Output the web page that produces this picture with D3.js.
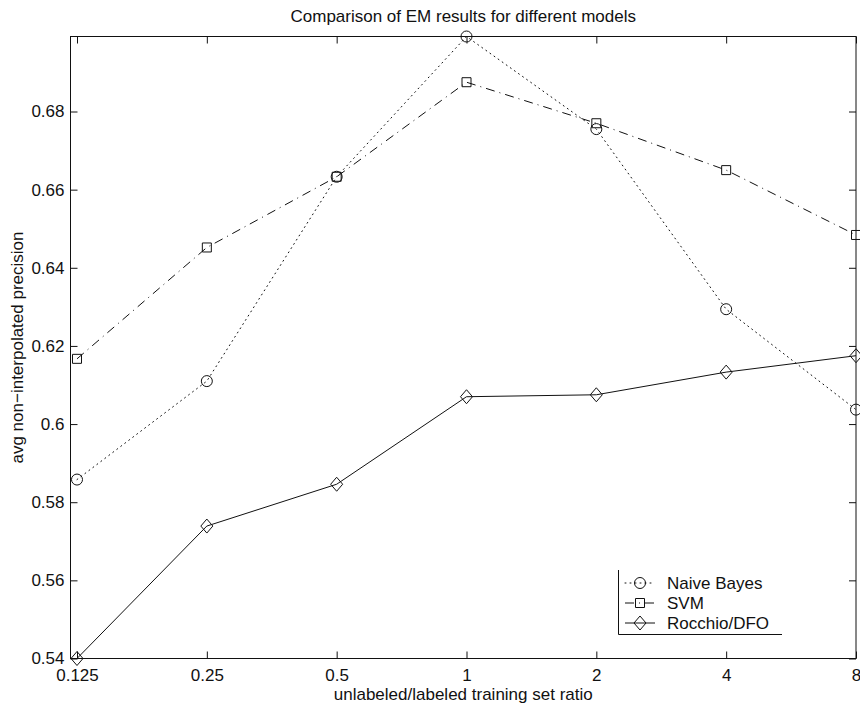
<!DOCTYPE html>
<html>
<head>
<meta charset="utf-8">
<script src="https://cdn.jsdelivr.net/npm/d3@7"></script>
<style>
  html, body { margin: 0; padding: 0; background: #fff; }
  svg { display: block; font-family: "Liberation Sans", Arial, Helvetica, sans-serif; }
</style>
</head>
<body>
<svg id="chart" width="860" height="703"></svg>
<script>
// unlabeled/labeled ratios on the x axis
const ratios = [0.125, 0.25, 0.5, 1, 2, 4, 8];
const ratioLabels = ["0.125", "0.25", "0.5", "1", "2", "4", "8"];

// avg non-interpolated precision per model
const naiveBayes = [0.5858, 0.6110, 0.6633, 0.6992, 0.6755, 0.6294, 0.6037];
const svm        = [0.6167, 0.6452, 0.6633, 0.6875, 0.6770, 0.6650, 0.6484];
const rocchio    = [0.5400, 0.5739, 0.5846, 0.6070, 0.6075, 0.6133, 0.6175];

const yTicks = [0.54, 0.56, 0.58, 0.60, 0.62, 0.64, 0.66, 0.68];
const yTickLabels = ["0.54", "0.56", "0.58", "0.6", "0.62", "0.64", "0.66", "0.68"];

const seriesNames = ["Naive Bayes", "SVM", "Rocchio/DFO"];

const svg = d3.select("#chart");
const fontSize = "17px";

// axes box
const box = { left: 70.5, right: 856, top: 36.5, bottom: 658.5 };

const x = d3.scaleLog().base(2).domain([0.125, 8]).range([77, 856]);
const y = d3.scaleLinear().domain([0.54, 0.6992]).range([658.5, 36.5]);

const ink = "#111";

// frame
svg.append("rect")
  .attr("x", box.left).attr("y", box.top)
  .attr("width", box.right - box.left).attr("height", box.bottom - box.top)
  .attr("fill", "none").attr("stroke", ink).attr("stroke-width", 1);

const tickLen = 7;

// bottom axis (ticks pointing inward)
const xBottom = svg.append("g")
  .attr("transform", `translate(0,${box.bottom})`)
  .call(d3.axisBottom(x).tickValues(ratios)
    .tickFormat((d, i) => ratioLabels[i])
    .tickSizeInner(-tickLen).tickSizeOuter(0).tickPadding(10));
xBottom.select(".domain").remove();

// top axis ticks only
const xTop = svg.append("g")
  .attr("transform", `translate(0,${box.top})`)
  .call(d3.axisTop(x).tickValues(ratios).tickFormat("")
    .tickSizeInner(-tickLen).tickSizeOuter(0));
xTop.select(".domain").remove();

// left axis
const yLeft = svg.append("g")
  .attr("transform", `translate(${box.left},0)`)
  .call(d3.axisLeft(y).tickValues(yTicks)
    .tickFormat((d, i) => yTickLabels[i])
    .tickSizeInner(-tickLen).tickSizeOuter(0).tickPadding(6));
yLeft.select(".domain").remove();

// right axis ticks only
const yRight = svg.append("g")
  .attr("transform", `translate(${box.right},0)`)
  .call(d3.axisRight(y).tickValues(yTicks).tickFormat("")
    .tickSizeInner(-tickLen).tickSizeOuter(0));
yRight.select(".domain").remove();

svg.selectAll(".tick line").attr("stroke", ink);
svg.selectAll(".tick text")
  .attr("fill", ink)
  .style("font-size", fontSize)
  .style("font-family", "\"Liberation Sans\", Arial, sans-serif");

// titles
svg.append("text")
  .attr("x", (box.left + box.right) / 2).attr("y", 22)
  .attr("text-anchor", "middle").attr("fill", ink)
  .style("font-size", fontSize)
  .text("Comparison of EM results for different models");

svg.append("text")
  .attr("x", (box.left + box.right) / 2).attr("y", 700)
  .attr("text-anchor", "middle").attr("fill", ink)
  .style("font-size", fontSize)
  .text("unlabeled/labeled training set ratio");

svg.append("text")
  .attr("transform", `translate(23,${(box.top + box.bottom) / 2}) rotate(-90)`)
  .attr("text-anchor", "middle").attr("fill", ink)
  .style("font-size", fontSize)
  .text("avg non\u2212interpolated precision");

// marker shapes
const markerPath = {
  circle: d3.symbol().type(d3.symbolCircle).size(Math.PI * 5.5 * 5.5)(),
  square: "M-4.5,-4.5H4.5V4.5H-4.5Z",
  diamond: "M0,-7L6,0L0,7L-6,0Z"
};

const series = [
  { name: seriesNames[0], values: naiveBayes, dash: "1,4", cap: "round", marker: "circle" },
  { name: seriesNames[1], values: svm, dash: "9,5,1,5", cap: "butt", marker: "square" },
  { name: seriesNames[2], values: rocchio, dash: null, cap: "butt", marker: "diamond" }
];

const line = d3.line()
  .x((d, i) => x(ratios[i]))
  .y(d => y(d));

series.forEach(s => {
  svg.append("path")
    .datum(s.values)
    .attr("d", line)
    .attr("fill", "none")
    .attr("stroke", ink)
    .attr("stroke-width", 1)
    .attr("stroke-linecap", s.cap)
    .attr("stroke-dasharray", s.dash);

  svg.append("g").selectAll("path")
    .data(s.values)
    .join("path")
    .attr("transform", (d, i) => `translate(${x(ratios[i])},${y(d)})`)
    .attr("d", markerPath[s.marker])
    .attr("fill", "none")
    .attr("stroke", ink)
    .attr("stroke-width", 1);
});

// legend
const legend = svg.append("g").attr("transform", "translate(618,570)");
legend.append("rect")
  .attr("x", 0).attr("y", 0).attr("width", 164).attr("height", 65)
  .attr("fill", "#fff").attr("stroke", "none");
legend.append("path")
  .attr("d", "M0.5,0V64.5H164")
  .attr("fill", "none").attr("stroke", ink).attr("stroke-width", 1);

series.forEach((s, i) => {
  const cy = 13 + i * 20;
  legend.append("line")
    .attr("x1", 7).attr("x2", 37).attr("y1", cy).attr("y2", cy)
    .attr("stroke", ink).attr("stroke-width", 1)
    .attr("stroke-linecap", s.cap)
    .attr("stroke-dasharray", s.dash);
  legend.append("path")
    .attr("transform", `translate(22,${cy})`)
    .attr("d", markerPath[s.marker])
    .attr("fill", "none").attr("stroke", ink).attr("stroke-width", 1);
  legend.append("text")
    .attr("x", 49).attr("y", cy + 6)
    .attr("fill", ink)
    .style("font-size", fontSize)
    .text(s.name);
});
</script>
</body>
</html>
